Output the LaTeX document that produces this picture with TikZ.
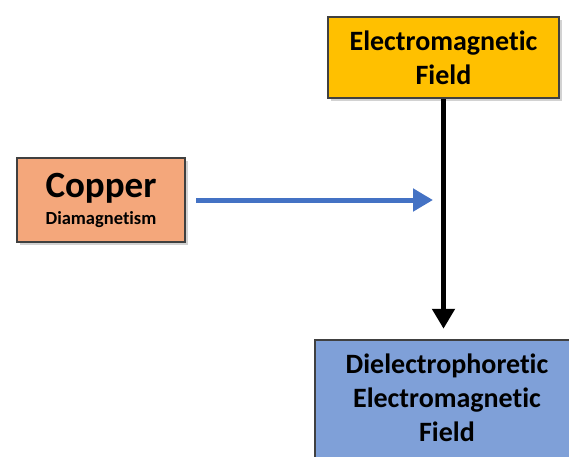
\documentclass[tikz,border=0pt]{standalone}
\usepackage{fontspec}
\setsansfont{Carlito}[Ligatures=NoCommon]
\usetikzlibrary{arrows.meta, shadows}

\definecolor{copperfill}{HTML}{F4A77B}
\definecolor{fieldfill}{HTML}{FFC000}
\definecolor{depfill}{HTML}{7FA0D8}
\definecolor{arrowblue}{HTML}{4472C4}
\definecolor{boxline}{HTML}{404040}

\begin{document}
\begin{tikzpicture}[
	x=1pt,
	y=1pt,
	font=\sffamily\bfseries,
	box/.style={
		draw=boxline,
		line width=2.5pt,
		align=center,
		inner sep=0pt,
		drop shadow={shadow xshift=3pt, shadow yshift=-3pt, fill=gray!70}
	},
	bigtext/.style={
		font=\sffamily\bfseries\fontsize{28}{34}\selectfont
	},
	feed/.style={
		draw=arrowblue,
		line width=5pt,
		-{Triangle[width=22pt,length=20pt]}
	},
	drive/.style={
		draw=black,
		line width=5pt,
		-{Triangle[width=22pt,length=20pt]}
	}
	]
	% canvas
	\useasboundingbox (0,0) rectangle (569,456);
	\clip (0,0) rectangle (569,456);

	% source material on the left
	\node[box, fill=copperfill, minimum width=168pt, minimum height=84pt,
		font=\sffamily\bfseries\fontsize{18.5}{22}\selectfont] (copper) at (101,256)
		{{\fontsize{37}{40}\selectfont Copper}\\[5pt]Diamagnetism};

	% applied field on top
	\node[box, bigtext, fill=fieldfill, minimum width=231pt, minimum height=81pt] (emfield) at (443.5,398.5)
		{Electromagnetic\\Field};

	% resulting field at the bottom
	\node[box, bigtext, fill=depfill, minimum width=264pt, minimum height=130pt, text depth=14pt] (dep) at (447,51)
		{Dielectrophoretic\\Electromagnetic\\Field};

	% connectors
	\coordinate (hit) at (433,256);
	\draw[feed, shorten <=10pt] (copper.east) -- (hit);
	\draw[drive, shorten >=10pt] (emfield.south) -- (emfield.south |- dep.north);
\end{tikzpicture}
\end{document}
